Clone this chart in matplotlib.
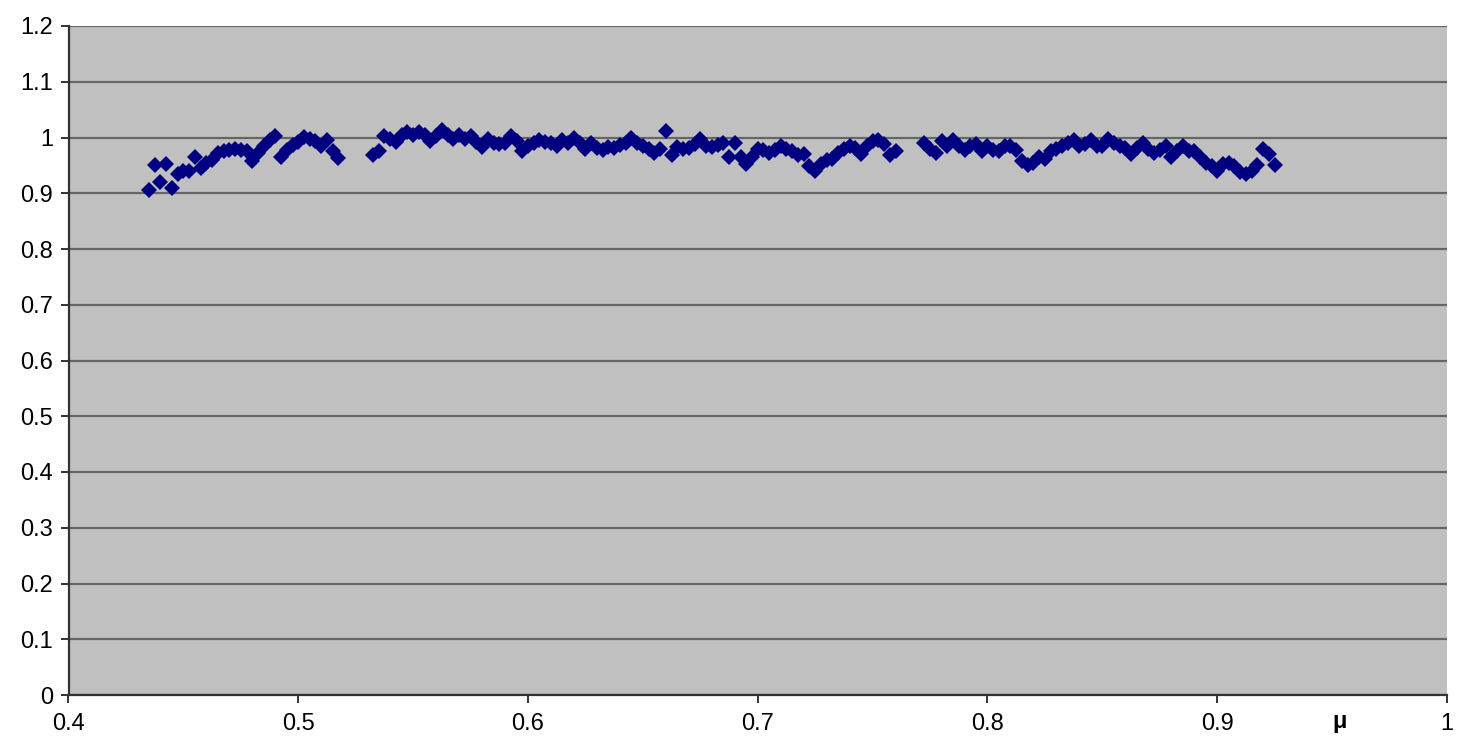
import matplotlib
matplotlib.use("Agg")
import matplotlib.pyplot as plt

plt.rcParams['font.family'] = ['Liberation Sans', 'DejaVu Sans']

# mu values (x) and ratio (y)
mu = [
    0.435, 0.4375, 0.44, 0.4425, 0.445, 0.4475, 0.45, 0.4525, 0.455, 0.4575,
    0.46, 0.4625, 0.465, 0.4675, 0.47, 0.4725, 0.475, 0.4775, 0.48, 0.4825,
    0.485, 0.4875, 0.49, 0.4925, 0.495, 0.4975, 0.5, 0.5025, 0.505, 0.5075,
    0.51, 0.5125, 0.515, 0.5175,
    0.5325, 0.535, 0.5375, 0.54, 0.5425, 0.545, 0.5475, 0.55, 0.5525, 0.555,
    0.5575, 0.56, 0.5625, 0.565, 0.5675, 0.57, 0.5725, 0.575, 0.5775, 0.58,
    0.5825, 0.585, 0.5875, 0.59, 0.5925, 0.595, 0.5975, 0.6, 0.6025, 0.605,
    0.6075, 0.61, 0.6125, 0.615, 0.6175, 0.62, 0.6225, 0.625, 0.6275, 0.63,
    0.6325, 0.635, 0.6375, 0.64, 0.6425, 0.645, 0.6475, 0.65, 0.6525, 0.655,
    0.6575, 0.66, 0.6625, 0.665, 0.6675, 0.67, 0.6725, 0.675, 0.6775, 0.68,
    0.6825, 0.685, 0.6875, 0.69, 0.6925, 0.695, 0.6975, 0.7, 0.7025, 0.705,
    0.7075, 0.71, 0.7125, 0.715, 0.7175, 0.72, 0.7225, 0.725, 0.7275, 0.73,
    0.7325, 0.735, 0.7375, 0.74, 0.7425, 0.745, 0.7475, 0.75, 0.7525, 0.755,
    0.7575, 0.76,
    0.7725, 0.775, 0.7775, 0.78, 0.7825, 0.785, 0.7875, 0.79, 0.7925, 0.795,
    0.7975, 0.8, 0.8025, 0.805, 0.8075, 0.81, 0.8125, 0.815, 0.8175, 0.82,
    0.8225, 0.825, 0.8275, 0.83, 0.8325, 0.835, 0.8375, 0.84, 0.8425, 0.845,
    0.8475, 0.85, 0.8525, 0.855, 0.8575, 0.86, 0.8625, 0.865, 0.8675, 0.87,
    0.8725, 0.875, 0.8775, 0.88, 0.8825, 0.885, 0.8875, 0.89, 0.8925, 0.895,
    0.8975, 0.9, 0.9025, 0.905, 0.9075, 0.91, 0.9125, 0.915, 0.9175, 0.92,
    0.9225, 0.925,
]
ratio = [
    0.906, 0.950, 0.921, 0.953, 0.910, 0.935, 0.940, 0.940, 0.965, 0.945,
    0.955, 0.960, 0.972, 0.975, 0.978, 0.980, 0.977, 0.975, 0.958, 0.972,
    0.985, 0.995, 1.002, 0.965, 0.978, 0.987, 0.992, 1.001, 0.998, 0.993,
    0.985, 0.995, 0.975, 0.963,
    0.968, 0.975, 1.002, 0.997, 0.992, 1.005, 1.010, 1.005, 1.010, 1.005,
    0.993, 1.003, 1.013, 1.005, 0.998, 1.004, 0.998, 1.003, 0.992, 0.983,
    0.998, 0.990, 0.988, 0.990, 1.003, 0.993, 0.975, 0.985, 0.990, 0.995,
    0.992, 0.990, 0.985, 0.995, 0.990, 1.000, 0.990, 0.980, 0.990, 0.982,
    0.978, 0.983, 0.982, 0.987, 0.990, 1.000, 0.990, 0.985, 0.980, 0.972,
    0.980, 1.012, 0.968, 0.983, 0.980, 0.982, 0.988, 0.998, 0.985, 0.983,
    0.987, 0.990, 0.965, 0.990, 0.965, 0.953, 0.965, 0.980, 0.978, 0.972,
    0.978, 0.985, 0.980, 0.975, 0.968, 0.970, 0.948, 0.940, 0.952, 0.960,
    0.962, 0.972, 0.980, 0.985, 0.982, 0.970, 0.985, 0.993, 0.995, 0.988,
    0.968, 0.976,
    0.990, 0.980, 0.972, 0.993, 0.985, 0.995, 0.985, 0.977, 0.985, 0.988,
    0.975, 0.985, 0.978, 0.975, 0.985, 0.985, 0.978, 0.958, 0.950, 0.955,
    0.965, 0.962, 0.975, 0.980, 0.985, 0.990, 0.995, 0.985, 0.988, 0.995,
    0.985, 0.985, 0.998, 0.990, 0.985, 0.982, 0.970, 0.982, 0.990, 0.980,
    0.972, 0.978, 0.985, 0.965, 0.975, 0.985, 0.975, 0.975, 0.965, 0.955,
    0.948, 0.940, 0.952, 0.955, 0.948, 0.938, 0.935, 0.940, 0.950, 0.980,
    0.970, 0.950,
]

x_ticks = [0.4, 0.5, 0.6, 0.7, 0.8, 0.9, 1.0]
x_labels = ['0.4', '0.5', '0.6', '0.7', '0.8', '0.9', '1']
y_ticks = [0, 0.1, 0.2, 0.3, 0.4, 0.5, 0.6, 0.7, 0.8, 0.9, 1.0, 1.1, 1.2]
y_labels = ['0', '0.1', '0.2', '0.3', '0.4', '0.5', '0.6', '0.7', '0.8', '0.9', '1', '1.1', '1.2']

fig = plt.figure(figsize=(14.6, 7.44), dpi=100)
ax = fig.add_axes([68.5 / 1460, 49 / 744, 1378.5 / 1460, 669 / 744])
ax.set_facecolor('#c0c0c0')

ax.plot(mu, ratio, linestyle='none', marker='D', markersize=8.4,
        color='#000080', markeredgewidth=0)

ax.set_xlim(0.4, 1.0)
ax.set_ylim(0, 1.2)
ax.set_xticks(x_ticks)
ax.set_xticklabels(x_labels)
ax.set_yticks(y_ticks)
ax.set_yticklabels(y_labels)

# horizontal gridlines only, like the spreadsheet chart
ax.yaxis.grid(True, color='#666666', linewidth=1.6)
ax.set_axisbelow(True)

for side in ['top', 'right']:
    ax.spines[side].set_visible(False)
for side in ['left', 'bottom']:
    ax.spines[side].set_color('#333333')
    ax.spines[side].set_linewidth(1.6)

ax.tick_params(axis='both', direction='out', length=6, width=1.4,
               color='#333333', labelsize=17, labelcolor='black')
ax.tick_params(axis='y', pad=5)
ax.tick_params(axis='x', pad=7)

ax.set_xlabel('μ', fontsize=17, fontweight='bold')
ax.xaxis.set_label_coords(0.922, -0.022)

fig.savefig('out.png', dpi=100, facecolor='white')
